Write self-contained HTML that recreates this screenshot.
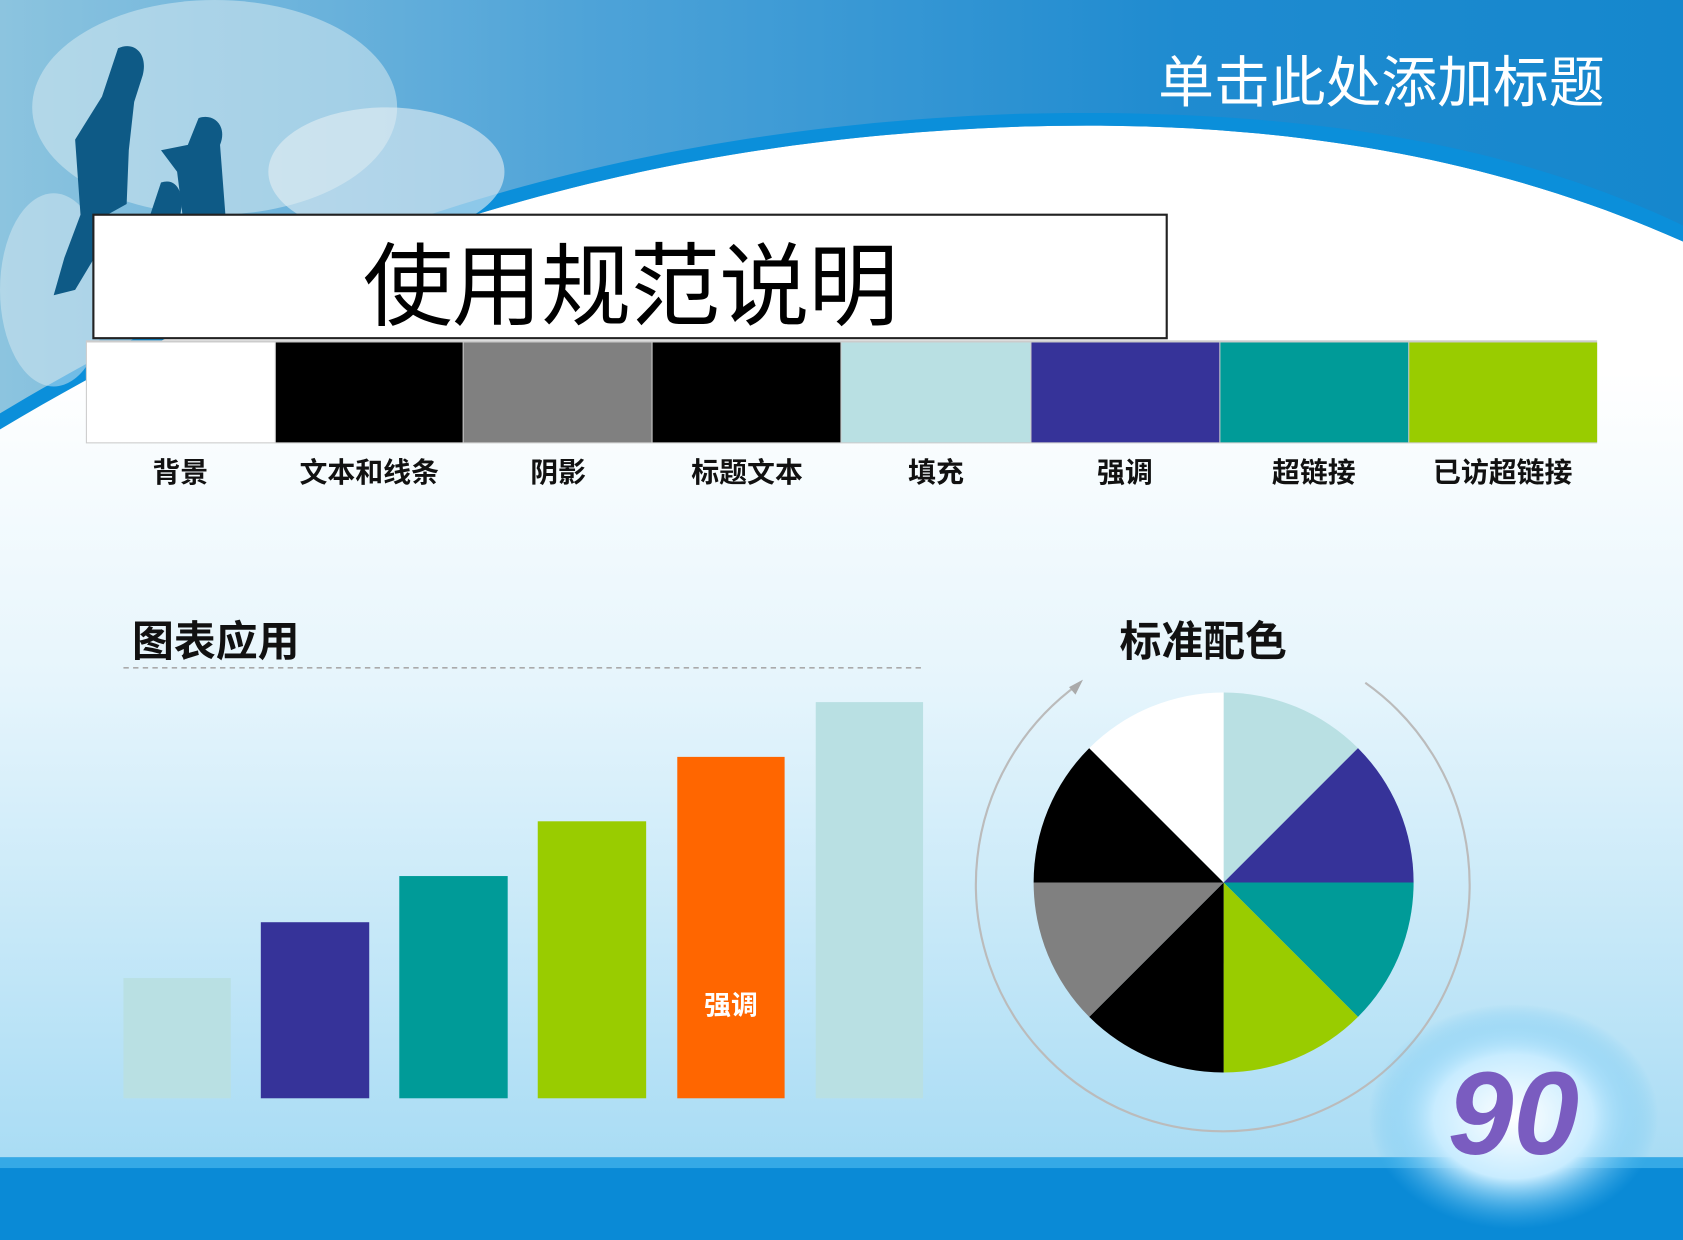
<!DOCTYPE html>
<html><head><meta charset="utf-8"><style>
html,body{margin:0;padding:0;width:1683px;height:1240px;overflow:hidden;background:#fff}
svg{display:block}
text{font-family:"Liberation Sans","Noto Sans CJK SC",sans-serif}
</style></head><body>
<svg width="1683" height="1240" viewBox="0 0 1568 1155" preserveAspectRatio="none" xmlns="http://www.w3.org/2000/svg">
<defs>
<linearGradient id="bg" x1="0" y1="0" x2="0" y2="1">
<stop offset="0.3" stop-color="#ffffff"/><stop offset="0.55" stop-color="#e6f5fc"/><stop offset="1" stop-color="#9fd8f3"/>
</linearGradient>
<linearGradient id="top" x1="0" y1="0" x2="1" y2="0">
<stop offset="0" stop-color="#8cc4df"/><stop offset="0.35" stop-color="#4ea3d8"/><stop offset="0.7" stop-color="#1f8bd0"/><stop offset="1" stop-color="#1587cd"/>
</linearGradient>
<radialGradient id="glow" cx="0.5" cy="0.5" r="0.5">
<stop offset="0" stop-color="#ffffff"/><stop offset="0.55" stop-color="#c8ecff"/><stop offset="1" stop-color="#4fb9ee" stop-opacity="0"/>
</radialGradient>
</defs>
<rect width="1568" height="1155" fill="url(#bg)"/>
<path d="M0 0H1568V225C1400 150 1200 110 950 118C600 130 300 220 0 400Z" fill="url(#top)"/>
<path d="M0 400C300 220 600 130 950 118C1200 110 1400 150 1568 225V210C1400 130 1200 100 950 106C600 118 300 205 0 385Z" fill="#0b8fda"/>
<ellipse cx="200" cy="100" rx="170" ry="100" fill="#d6eaf0" opacity="0.55"/>
<ellipse cx="360" cy="160" rx="110" ry="60" fill="#e4eff4" opacity="0.6"/>
<ellipse cx="50" cy="270" rx="50" ry="90" fill="#d8eaf2" opacity="0.5"/>
<path d="M110 45C125 38 138 50 133 70L125 95 120 140 118 190 100 200 88 240 70 270 50 275 60 240 75 200 70 130 95 90Z" fill="#0e5a86"/>
<path d="M185 110C200 105 212 118 205 135L210 200 170 200 165 160 150 140 175 135Z" fill="#0e5a86"/>
<path d="M150 170C165 165 172 180 168 200H140Z" fill="#0e5a86"/>
<text x="1495" y="95" font-size="52" fill="#fff" text-anchor="end">单击此处添加标题</text>
<rect x="87" y="200" width="1000" height="115" fill="#fff" stroke="#222" stroke-width="2"/>
<text x="587" y="296" font-size="84" fill="#000" text-anchor="middle" letter-spacing="-1">使用规范说明</text>
<rect x="80" y="317" width="1408" height="96" fill="#ccc"/>
<rect x="81" y="319" width="175" height="93" fill="#fff"/>
<rect x="257" y="319" width="174" height="93" fill="#000"/>
<rect x="432" y="319" width="175" height="93" fill="#808080"/>
<rect x="608" y="319" width="175" height="93" fill="#000"/>
<rect x="784" y="319" width="176" height="93" fill="#b9e0e3"/>
<rect x="961" y="319" width="175" height="93" fill="#363399"/>
<rect x="1137" y="319" width="175" height="93" fill="#009b98"/>
<rect x="1313" y="319" width="175" height="93" fill="#99cc00"/>
<g font-size="26" font-weight="bold" fill="#111" text-anchor="middle">
<text x="168" y="449">背景</text><text x="344" y="449">文本和线条</text><text x="520" y="449">阴影</text><text x="696" y="449">标题文本</text>
<text x="872" y="449">填充</text><text x="1048" y="449">强调</text><text x="1224" y="449">超链接</text><text x="1400" y="449">已访超链接</text>
</g>
<text x="123" y="611" font-size="39" font-weight="bold" fill="#111">图表应用</text>
<line x1="115" y1="622" x2="860" y2="622" stroke="#aaa" stroke-width="1.5" stroke-dasharray="5,4"/>
<rect x="115" y="911" width="100" height="112" fill="#b9e0e3"/>
<rect x="243" y="859" width="101" height="164" fill="#363399"/>
<rect x="372" y="816" width="101" height="207" fill="#009b98"/>
<rect x="501" y="765" width="101" height="258" fill="#99cc00"/>
<rect x="631" y="705" width="100" height="318" fill="#ff6600"/>
<text x="681" y="945" font-size="25" font-weight="bold" fill="#fff" text-anchor="middle">强调</text>
<rect x="760" y="654" width="100" height="369" fill="#b9e0e3"/>
<text x="1043" y="611" font-size="39" font-weight="bold" fill="#111">标准配色</text>
<path d="M1005 637A230 230 0 1 0 1272 636" fill="none" stroke="#bbb" stroke-width="2"/>
<path d="M1009 633L996 640 1002 647Z" fill="#aaa"/>
<g transform="translate(1140,822)">
<path d="M0 0V-177A177 177 0 0 1 125.2 -125.2Z" fill="#b9e0e3"/>
<path d="M0 0L125.2 -125.2A177 177 0 0 1 177 0Z" fill="#363399"/>
<path d="M0 0H177A177 177 0 0 1 125.2 125.2Z" fill="#009b98"/>
<path d="M0 0L125.2 125.2A177 177 0 0 1 0 177Z" fill="#99cc00"/>
<path d="M0 0V177A177 177 0 0 1 -125.2 125.2Z" fill="#000"/>
<path d="M0 0L-125.2 125.2A177 177 0 0 1 -177 0Z" fill="#808080"/>
<path d="M0 0H-177A177 177 0 0 1 -125.2 -125.2Z" fill="#000"/>
<path d="M0 0L-125.2 -125.2A177 177 0 0 1 0 -177Z" fill="#fff"/>
</g>
<rect x="0" y="1078" width="1568" height="77" fill="#0a8ad6"/>
<rect x="0" y="1078" width="1568" height="10" fill="#35a9e6"/>
<ellipse cx="1410" cy="1040" rx="135" ry="105" fill="url(#glow)"/>
<text x="1410" y="1075" font-size="110" font-weight="bold" fill="#7a5cc0" text-anchor="middle" font-style="italic">90</text>
</svg>
</body></html>
